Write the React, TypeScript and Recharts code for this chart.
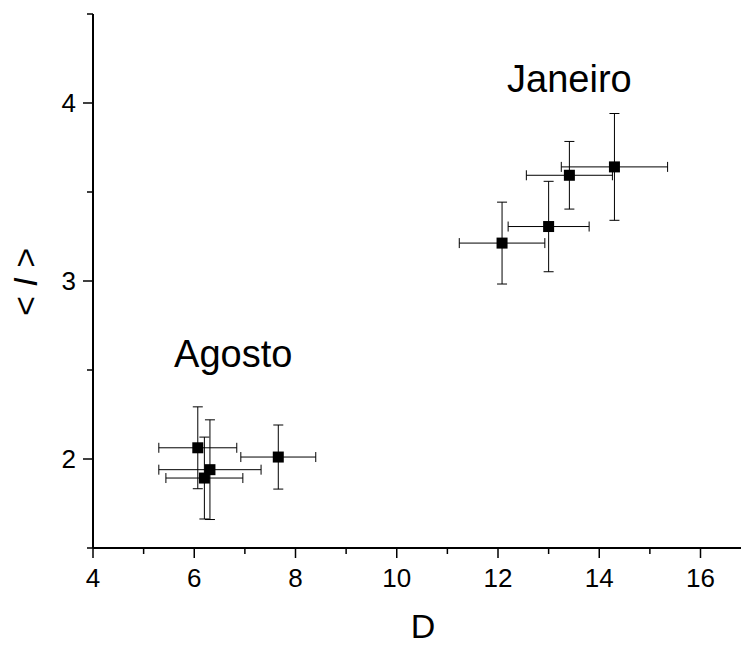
import React from 'react';
import { ScatterChart, Scatter, XAxis, YAxis, ErrorBar } from 'recharts';

const FONT = '"Liberation Sans", Arial, sans-serif';

// Agosto group: D, <I> and their errors
const agostoD = [6.07, 6.31, 6.2, 7.66];
const agostoI = [2.063, 1.94, 1.893, 2.011];
const agostoErrD = [0.77, 1.01, 0.76, 0.74];
const agostoErrI = [0.23, 0.28, 0.23, 0.18];

// Janeiro group
const janeiroD = [12.08, 13.0, 13.41, 14.3];
const janeiroI = [3.213, 3.306, 3.594, 3.641];
const janeiroErrD = [0.845, 0.8, 0.85, 1.05];
const janeiroErrI = [0.23, 0.254, 0.19, 0.3];

const xTicks = [4, 5, 6, 7, 8, 9, 10, 11, 12, 13, 14, 15, 16];
const xMajor = [4, 6, 8, 10, 12, 14, 16];
const yTicks = [1.5, 2, 2.5, 3, 3.5, 4, 4.5];
const yMajor = [2, 3, 4];

const groupLabels = ['Janeiro', 'Agosto'];
const groupLabelD = [13.41, 6.77];
const groupLabelI = [4.064, 2.516];

const build = (d: number[], i: number[], ed: number[], ei: number[]) =>
  d.map((x, k) => ({ x, y: i[k], errX: ed[k], errY: ei[k] }));

const points = [
  ...build(agostoD, agostoI, agostoErrD, agostoErrI),
  ...build(janeiroD, janeiroI, janeiroErrD, janeiroErrI),
];

const labelData = groupLabels.map((label, k) => ({ x: groupLabelD[k], y: groupLabelI[k], label }));

const XTick = (props: any) => {
  const { x, y, payload } = props;
  const major = xMajor.includes(payload.value);
  return (
    <g>
      <line x1={x} y1={y} x2={x} y2={y + (major ? 10 : 6)} stroke="#000" strokeWidth={1.5} />
      {major && (
        <text x={x} y={y + 39} textAnchor="middle" fontSize={26} fontFamily={FONT} fill="#000">
          {payload.value}
        </text>
      )}
    </g>
  );
};

const YTick = (props: any) => {
  const { x, y, payload } = props;
  const major = yMajor.includes(payload.value);
  return (
    <g>
      <line x1={x - (major ? 10 : 6)} y1={y} x2={x} y2={y} stroke="#000" strokeWidth={1.5} />
      {major && (
        <text x={x - 17} y={y} dy="0.35em" textAnchor="end" fontSize={26} fontFamily={FONT} fill="#000">
          {payload.value}
        </text>
      )}
    </g>
  );
};

const SquareMark = (props: any) => {
  const { cx, cy } = props;
  return <rect x={cx - 5.5} y={cy - 5.5} width={11} height={11} fill="#000" />;
};

const GroupLabel = (props: any) => {
  const { cx, cy, payload } = props;
  return (
    <text x={cx} y={cy} textAnchor="middle" fontSize={38} fontFamily={FONT} fill="#000">
      {payload.label}
    </text>
  );
};

export default function App() {
  return (
    <div style={{ position: 'absolute', left: 0, top: 0, width: 741, height: 645, background: '#fff' }}>
      <ScatterChart width={741} height={645} margin={{ top: 14, right: 0, bottom: 0, left: 0 }}>
        <XAxis
          type="number"
          dataKey="x"
          domain={[4, 16.8]}
          allowDataOverflow
          ticks={xTicks}
          interval={0}
          height={97}
          tickSize={0}
          tickMargin={0}
          tick={<XTick />}
          axisLine={{ stroke: '#000', strokeWidth: 2 }}
          label={() => (
            <text x={423} y={638} textAnchor="middle" fontSize={34} fontFamily={FONT} fill="#000">
              D
            </text>
          )}
        />
        <YAxis
          type="number"
          dataKey="y"
          domain={[1.5, 4.5]}
          allowDataOverflow
          ticks={yTicks}
          interval={0}
          width={93}
          tickSize={0}
          tickMargin={0}
          tick={<YTick />}
          axisLine={{ stroke: '#000', strokeWidth: 2 }}
          label={() => (
            <text
              x={25}
              y={282}
              transform="rotate(-90 25 282)"
              textAnchor="middle"
              dy="0.35em"
              fontSize={34}
              fontFamily={FONT}
              fill="#000"
            >
              <tspan>{'< '}</tspan>
              <tspan fontStyle="italic">I</tspan>
              <tspan>{' >'}</tspan>
            </text>
          )}
        />
        <Scatter data={points} shape={<SquareMark />} isAnimationActive={false}>
          <ErrorBar dataKey="errX" direction="x" width={5} stroke="#000" strokeWidth={1} isAnimationActive={false} />
          <ErrorBar dataKey="errY" direction="y" width={5} stroke="#000" strokeWidth={1} isAnimationActive={false} />
        </Scatter>
        <Scatter data={labelData} shape={<GroupLabel />} isAnimationActive={false} />
      </ScatterChart>
    </div>
  );
}
